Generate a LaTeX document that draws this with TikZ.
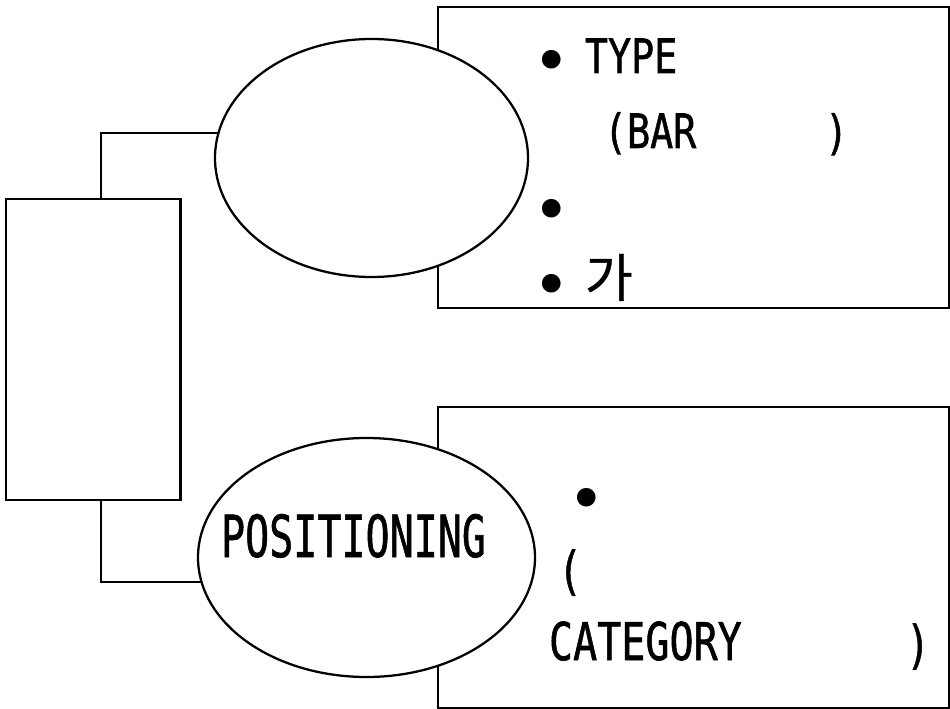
\documentclass[tikz,border=0pt]{standalone}
\usepackage{fontspec}
\usepackage{graphicx}
\usetikzlibrary{shapes.geometric}
\newfontfamily\monofam[FakeBold=1.2]{DejaVu Sans Mono}
\newfontfamily\bulfam{DejaVu Sans Mono}
\newfontfamily\krfam[FakeBold=0.8]{Noto Sans CJK KR}
\newcommand\toptxt[1]{\scalebox{0.81}[1]{\fontsize{35.5}{40}\selectfont\monofam #1}}
\newcommand\cattxt[1]{\scalebox{0.77}[1]{\fontsize{39}{44}\selectfont\monofam #1}}
\newcommand\postxt[1]{\scalebox{0.69}[1]{\fontsize{43.5}{48}\selectfont\monofam #1}}
\newcommand\bultxt{{\fontsize{48}{52}\selectfont\bulfam •}}
\pgfdeclarelayer{bg}
\pgfsetlayers{bg,main}
\tikzset{
  boxst/.style={draw, line width=1.7pt, rectangle, inner sep=0pt},
  ellst/.style={draw, line width=1.7pt, ellipse, fill=white, inner sep=0pt},
  link/.style={line width=1.7pt},
  txt/.style={inner sep=0pt, outer sep=0pt, anchor=base west},
  bul/.style={inner sep=0pt, outer sep=0pt, anchor=base}
}
\begin{document}
\begin{tikzpicture}[x=0.75pt, y=-0.75pt]
\useasboundingbox (0,0) rectangle (950,709);
% boxes
\node[boxst, minimum width=383.25pt, minimum height=225.75pt] (topbox) at (693.5,157.5) {};
\node[boxst, minimum width=383.25pt, minimum height=225.75pt] (botbox) at (693.5,557.5) {};
\node[boxst, minimum width=130.9pt, minimum height=225.75pt] (leftbox) at (93.25,349.5) {};
% ellipses
\node[ellst, minimum width=234.75pt, minimum height=178.5pt] (topell) at (371.5,158) {};
\node[ellst, minimum width=252.75pt, minimum height=179.25pt] (botell) at (366.5,557.5) {};
% connectors (behind the ellipses)
\coordinate (c1) at (101,133);
\coordinate (c2) at (101,582);
\begin{pgfonlayer}{bg}
\draw[link] (leftbox.north -| c1) |- (topell.center |- c1);
\draw[link] (leftbox.south -| c2) |- (botell.center |- c2);
\end{pgfonlayer}
% top box text
\node[bul] (b1) at (551.5,84) {\bultxt};
\node[txt] (t1) at (585,73) {\toptxt{TYPE}};
\node[txt] (t2) at (604,148) {\toptxt{(BAR}};
\node[txt] (t3) at (825,149) {\toptxt{)}};
\node[bul] (b2) at (551.5,233) {\bultxt};
\node[bul] (b3) at (551.5,308) {\bultxt};
\node[txt] (t4) at (585,297) {\fontsize{39}{42}\selectfont\krfam 가};
% bottom
\node[txt] (pos) at (221,557) {\postxt{POSITIONING}};
\node[bul] (b4) at (587,521) {\bultxt};
\node[txt] (t5) at (558,589) {\cattxt{(}};
\node[txt] (t6) at (549,660) {\cattxt{CATEGORY}};
\node[txt] (t7) at (906,663) {\cattxt{)}};
\end{tikzpicture}
\end{document}
